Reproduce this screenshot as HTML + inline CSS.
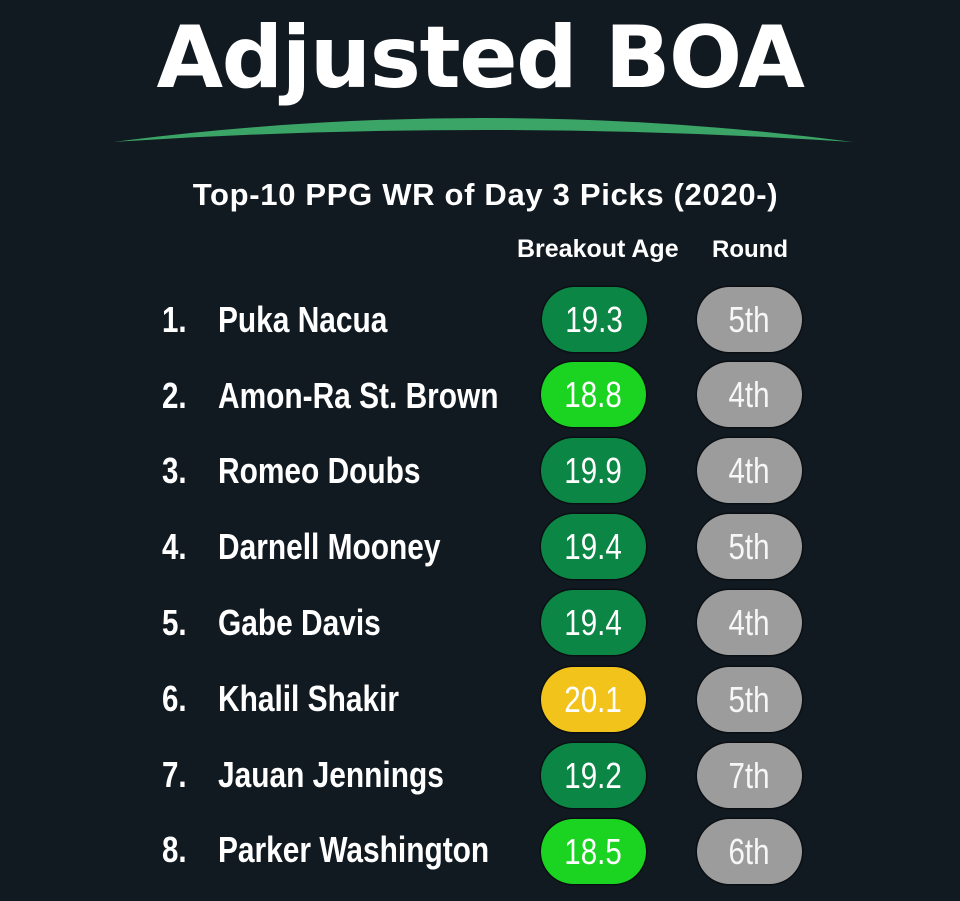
<!DOCTYPE html>
<html>
<head>
<meta charset="utf-8">
<style>
  html,body{margin:0;padding:0;}
  body{width:960px;height:901px;background:#121a21;position:relative;overflow:hidden;
       font-family:"Liberation Sans","DejaVu Sans",sans-serif;color:#fff;}
  .title{position:absolute;left:0;width:960px;top:15px;text-align:center;
         font-family:"DejaVu Sans","Liberation Sans",sans-serif;font-weight:bold;
         font-size:86px;line-height:86px;letter-spacing:-1.4px;white-space:nowrap;}
  .sub{position:absolute;left:0;width:971px;top:179px;text-align:center;font-weight:bold;
       font-size:31px;line-height:31px;letter-spacing:0.68px;white-space:nowrap;}
  .hdr{position:absolute;font-weight:bold;line-height:25px;white-space:nowrap;}
  .row{position:absolute;left:0;width:960px;height:50px;}
  .num,.name{position:absolute;top:0;height:50px;line-height:50px;font-weight:bold;font-size:36px;
        transform:scaleX(0.83);transform-origin:0 50%;white-space:nowrap;}
  .num{left:162px;transform:scaleX(0.82);}
  .name{left:218px;}
  .pill{position:absolute;width:105px;height:65px;border-radius:32.5px;
        box-shadow:0 0 0 1.5px #0a0f13;text-align:center;line-height:65px;}
  .pill span{display:inline-block;font-size:36px;transform:scaleX(0.82);white-space:nowrap;}
  .dg{background:#0c8644;}
  .bg{background:#1bd321;}
  .yl{background:#f1c31b;}
  .gr{background:#9c9c9c;color:#f7f7f7;}
</style>
</head>
<body>
<div class="title">Adjusted BOA</div>
<svg style="position:absolute;left:0;top:0" width="960" height="160" viewBox="0 0 960 160">
  <path d="M113,142 Q483,94 853,142 Q483,118 113,142 Z" fill="#3ba567"/>
</svg>
<div class="sub">Top-10 PPG WR of Day 3 Picks (2020-)</div>
<div class="hdr" style="left:517px;top:237px;font-size:25px;">Breakout Age</div>
<div class="hdr" style="left:712px;top:237px;font-size:24px;">Round</div>

<div class="row" style="top:295px"><div class="num">1.</div><div class="name">Puka Nacua</div></div>
<div class="row" style="top:371px"><div class="num">2.</div><div class="name">Amon-Ra St. Brown</div></div>
<div class="row" style="top:446px"><div class="num">3.</div><div class="name">Romeo Doubs</div></div>
<div class="row" style="top:522px"><div class="num">4.</div><div class="name">Darnell Mooney</div></div>
<div class="row" style="top:598px"><div class="num">5.</div><div class="name">Gabe Davis</div></div>
<div class="row" style="top:674px"><div class="num">6.</div><div class="name">Khalil Shakir</div></div>
<div class="row" style="top:750px"><div class="num">7.</div><div class="name">Jauan Jennings</div></div>
<div class="row" style="top:825px"><div class="num">8.</div><div class="name">Parker Washington</div></div>

<div class="pill dg" style="left:542px;top:287px"><span>19.3</span></div>
<div class="pill bg" style="left:541px;top:362px"><span>18.8</span></div>
<div class="pill dg" style="left:541px;top:438px"><span>19.9</span></div>
<div class="pill dg" style="left:541px;top:514px"><span>19.4</span></div>
<div class="pill dg" style="left:541px;top:590px"><span>19.4</span></div>
<div class="pill yl" style="left:541px;top:667px"><span>20.1</span></div>
<div class="pill dg" style="left:541px;top:743px"><span>19.2</span></div>
<div class="pill bg" style="left:541px;top:819px"><span>18.5</span></div>

<div class="pill gr" style="left:697px;top:287px"><span>5th</span></div>
<div class="pill gr" style="left:697px;top:362px"><span>4th</span></div>
<div class="pill gr" style="left:697px;top:438px"><span>4th</span></div>
<div class="pill gr" style="left:697px;top:514px"><span>5th</span></div>
<div class="pill gr" style="left:697px;top:590px"><span>4th</span></div>
<div class="pill gr" style="left:697px;top:667px"><span>5th</span></div>
<div class="pill gr" style="left:697px;top:743px"><span>7th</span></div>
<div class="pill gr" style="left:697px;top:819px"><span>6th</span></div>
</body>
</html>
